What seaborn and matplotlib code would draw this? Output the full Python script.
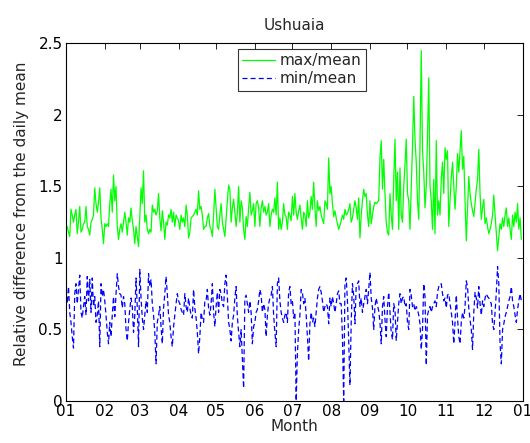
import matplotlib
matplotlib.use("Agg")
import matplotlib.pyplot as plt
import matplotlib.dates as mdates
import numpy as np
import pandas as pd
import seaborn as sns

# Daily ratios, one list per month
max_jan = [1.21, 1.22, 1.18, 1.15, 1.34, 1.30, 1.25, 1.30, 1.34, 1.17, 1.25, 1.36, 1.18, 1.20, 1.24, 1.25,
           1.36, 1.22, 1.20, 1.16, 1.25, 1.27, 1.30, 1.49, 1.38, 1.32, 1.39, 1.49, 1.28, 1.20, 1.10]
max_feb = [1.24, 1.22, 1.24, 1.22, 1.38, 1.48, 1.32, 1.58, 1.40, 1.50, 1.22, 1.13, 1.20, 1.24, 1.18, 1.25,
           1.32, 1.25, 1.16, 1.28, 1.25, 1.35, 1.26, 1.20, 1.10, 1.22, 1.15, 1.08]
max_mar = [1.28, 1.49, 1.38, 1.61, 1.25, 1.30, 1.20, 1.17, 1.20, 1.18, 1.37, 1.32, 1.34, 1.30, 1.33, 1.45,
           1.28, 1.19, 1.33, 1.25, 1.13, 1.25, 1.23, 1.30, 1.28, 1.34, 1.25, 1.32, 1.22, 1.30, 1.28]
max_apr = [1.26, 1.20, 1.30, 1.25, 1.28, 1.22, 1.37, 1.30, 1.14, 1.18, 1.28, 1.29, 1.30, 1.32, 1.34, 1.30,
           1.47, 1.34, 1.36, 1.30, 1.20, 1.22, 1.22, 1.28, 1.31, 1.22, 1.20, 1.15, 1.30, 1.48]
max_may = [1.35, 1.22, 1.20, 1.30, 1.38, 1.25, 1.20, 1.15, 1.28, 1.40, 1.51, 1.48, 1.25, 1.35, 1.41, 1.32,
           1.22, 1.32, 1.50, 1.25, 1.40, 1.35, 1.20, 1.13, 1.29, 1.22, 1.35, 1.46, 1.30, 1.33, 1.38]
max_jun = [1.22, 1.38, 1.40, 1.35, 1.22, 1.35, 1.40, 1.32, 1.36, 1.30, 1.32, 1.38, 1.22, 1.30, 1.34, 1.32,
           1.42, 1.30, 1.53, 1.20, 1.28, 1.20, 1.25, 1.38, 1.30, 1.29, 1.20, 1.32, 1.30, 1.26]
max_jul = [1.43, 1.30, 1.45, 1.32, 1.27, 1.33, 1.37, 1.28, 1.20, 1.32, 1.30, 1.22, 1.40, 1.28, 1.32, 1.43,
           1.34, 1.53, 1.35, 1.22, 1.40, 1.33, 1.36, 1.30, 1.27, 1.24, 1.40, 1.38, 1.34, 1.70, 1.45]
max_aug = [1.50, 1.38, 1.29, 1.33, 1.28, 1.24, 1.20, 1.23, 1.26, 1.30, 1.27, 1.34, 1.30, 1.31, 1.34, 1.38,
           1.25, 1.28, 1.34, 1.40, 1.35, 1.27, 1.42, 1.14, 1.30, 1.40, 1.48, 1.43, 1.45, 1.30, 1.22]
max_sep = [1.40, 1.24, 1.30, 1.36, 1.39, 1.38, 1.39, 1.40, 1.70, 1.82, 1.48, 1.69, 1.45, 1.25, 1.18, 1.16,
           1.45, 1.30, 1.20, 1.55, 1.83, 1.40, 1.60, 1.20, 1.63, 1.30, 1.25, 1.50, 1.65, 1.83]
max_oct = [1.45, 1.40, 1.20, 1.50, 1.78, 2.13, 1.83, 1.67, 1.40, 1.27, 1.80, 2.45, 1.75, 1.60, 1.35, 1.50,
           1.85, 2.26, 1.50, 1.40, 1.20, 1.55, 1.17, 1.82, 1.30, 1.40, 1.30, 1.55, 1.67, 1.45, 1.77]
max_nov = [1.69, 1.75, 1.22, 1.40, 1.56, 1.67, 1.50, 1.34, 1.50, 1.73, 1.60, 1.75, 1.89, 1.62, 1.71, 1.40,
           1.12, 1.35, 1.57, 1.45, 1.38, 1.33, 1.29, 1.38, 1.48, 1.55, 1.76, 1.45, 1.27, 1.35]
max_dec = [1.41, 1.24, 1.28, 1.22, 1.17, 1.20, 1.24, 1.30, 1.44, 1.30, 1.18, 1.05, 1.15, 1.24, 1.20, 1.28,
           1.22, 1.30, 1.35, 1.22, 1.28, 1.20, 1.13, 1.30, 1.22, 1.32, 1.25, 1.38, 1.20, 1.28, 1.13]

min_jan = [0.72, 0.68, 0.80, 0.62, 0.55, 0.45, 0.37, 0.75, 0.82, 0.68, 0.78, 0.88, 0.62, 0.58, 0.66, 0.73,
           0.60, 0.87, 0.70, 0.85, 0.62, 0.86, 0.66, 0.73, 0.55, 0.60, 0.70, 0.38, 0.82, 0.73, 0.78]
min_feb = [0.70, 0.60, 0.48, 0.40, 0.55, 0.45, 0.60, 0.73, 0.59, 0.75, 0.89, 0.80, 0.75, 0.74, 0.65, 0.73,
           0.68, 0.50, 0.42, 0.55, 0.64, 0.72, 0.66, 0.48, 0.60, 0.86, 0.65, 0.38]
min_mar = [0.92, 0.72, 0.58, 0.50, 0.60, 0.70, 0.62, 0.89, 0.80, 0.85, 0.68, 0.60, 0.48, 0.26, 0.55, 0.60,
           0.66, 0.52, 0.40, 0.65, 0.75, 0.87, 0.75, 0.60, 0.55, 0.45, 0.38, 0.52, 0.60, 0.68, 0.75]
min_apr = [0.70, 0.68, 0.64, 0.62, 0.60, 0.75, 0.66, 0.62, 0.72, 0.65, 0.60, 0.58, 0.78, 0.65, 0.58, 0.48,
           0.33, 0.45, 0.62, 0.57, 0.55, 0.70, 0.70, 0.78, 0.65, 0.60, 0.68, 0.82, 0.62, 0.52]
min_may = [0.66, 0.76, 0.62, 0.78, 0.75, 0.68, 0.66, 0.82, 0.88, 0.73, 0.55, 0.50, 0.42, 0.55, 0.60, 0.72,
           0.80, 0.59, 0.48, 0.38, 0.50, 0.30, 0.09, 0.72, 0.74, 0.68, 0.62, 0.70, 0.62, 0.40, 0.52]
min_jun = [0.55, 0.62, 0.64, 0.70, 0.78, 0.74, 0.62, 0.68, 0.64, 0.45, 0.60, 0.68, 0.72, 0.74, 0.80, 0.60,
           0.48, 0.38, 0.82, 0.86, 0.70, 0.62, 0.58, 0.55, 0.60, 0.62, 0.55, 0.76, 0.80, 0.68]
min_jul = [0.70, 0.58, 0.62, 0.00, 0.33, 0.50, 0.60, 0.78, 0.76, 0.68, 0.72, 0.60, 0.45, 0.28, 0.54, 0.62,
           0.55, 0.58, 0.52, 0.62, 0.72, 0.78, 0.80, 0.76, 0.70, 0.62, 0.66, 0.68, 0.66, 0.54, 0.72]
min_aug = [0.66, 0.73, 0.68, 0.62, 0.68, 0.75, 0.77, 0.68, 0.68, 0.45, 0.00, 0.82, 0.86, 0.70, 0.42, 0.11,
           0.55, 0.82, 0.74, 0.54, 0.80, 0.82, 0.84, 0.66, 0.72, 0.62, 0.68, 0.73, 0.78, 0.68, 0.78]
min_sep = [0.90, 0.72, 0.65, 0.50, 0.66, 0.72, 0.67, 0.63, 0.55, 0.40, 0.66, 0.73, 0.57, 0.45, 0.66, 0.76,
           0.62, 0.48, 0.43, 0.68, 0.64, 0.42, 0.55, 0.68, 0.75, 0.68, 0.72, 0.73, 0.66, 0.68]
min_oct = [0.55, 0.50, 0.78, 0.74, 0.66, 0.68, 0.63, 0.66, 0.64, 0.60, 0.54, 0.36, 0.50, 0.82, 0.73, 0.25,
           0.60, 0.64, 0.66, 0.62, 0.66, 0.68, 0.70, 0.66, 0.76, 0.80, 0.82, 0.82, 0.75, 0.70, 0.72]
min_nov = [0.65, 0.74, 0.75, 0.68, 0.62, 0.55, 0.40, 0.55, 0.74, 0.58, 0.45, 0.40, 0.55, 0.62, 0.58, 0.66,
           0.84, 0.80, 0.65, 0.57, 0.50, 0.36, 0.62, 0.76, 0.72, 0.65, 0.80, 0.68, 0.60, 0.70]
min_dec = [0.66, 0.72, 0.75, 0.73, 0.72, 0.70, 0.68, 0.54, 0.50, 0.62, 0.76, 0.94, 0.82, 0.40, 0.26, 0.50,
           0.54, 0.59, 0.62, 0.66, 0.70, 0.73, 0.80, 0.70, 0.66, 0.60, 0.55, 0.64, 0.70, 0.75, 0.70]

max_mean = (max_jan + max_feb + max_mar + max_apr + max_may + max_jun
            + max_jul + max_aug + max_sep + max_oct + max_nov + max_dec)
min_mean = (min_jan + min_feb + min_mar + min_apr + min_may + min_jun
            + min_jul + min_aug + min_sep + min_oct + min_nov + min_dec)

dates = pd.date_range("2009-01-01", periods=len(max_mean), freq="D")
month_ticks = pd.date_range("2009-01-01", "2010-01-01", freq="MS")

df = pd.concat([
    pd.DataFrame({"date": dates, "value": max_mean, "series": "max/mean"}),
    pd.DataFrame({"date": dates, "value": min_mean, "series": "min/mean"}),
])

sns.set_style("white")
# wide sans to mimic the stretched MATLAB Helvetica
plt.rcParams['font.family'] = ['DejaVu Sans']
fs = 11

fig = plt.figure(figsize=(5.3, 4.43), dpi=100)
ax = fig.add_axes([0.1245, 0.0948, 0.986 - 0.1245, 0.902 - 0.0948])

sns.lineplot(data=df, x="date", y="value", hue="series", style="series",
             palette={"max/mean": "#00ff00", "min/mean": "#0000ff"},
             dashes={"max/mean": "", "min/mean": (4, 2.5)},
             linewidth=0.9, ax=ax)

ax.set_xlim(month_ticks[0], month_ticks[-1])
ax.set_ylim(0, 2.5)
ax.set_xticks(month_ticks)
ax.xaxis.set_major_formatter(mdates.DateFormatter("%m"))
ax.set_yticks([0, 0.5, 1, 1.5, 2, 2.5])
ax.set_yticklabels(["0", "0.5", "1", "1.5", "2", "2.5"])
ax.tick_params(direction="in", length=4, width=0.6, top=True, right=True,
               labelsize=fs, colors="black", pad=2.5)
for s in ax.spines.values():
    s.set_visible(True)
    s.set_color("black")
    s.set_linewidth(0.8)

ax.set_title("Ushuaia", fontsize=fs, pad=10)
ax.set_xlabel("Month", fontsize=fs, labelpad=0)
ax.set_ylabel("Relative difference from the daily mean", fontsize=fs)
ax.yaxis.set_label_coords(-0.081, 0.524)

leg = ax.legend(loc="upper center", bbox_to_anchor=(0.517, 1.0), fontsize=fs,
                frameon=True, fancybox=False, handlelength=2.1, handletextpad=0.35,
                borderpad=0.3, labelspacing=0.2, borderaxespad=0.35)
leg.get_frame().set_edgecolor("black")
leg.get_frame().set_linewidth(0.8)

fig.savefig("out.png", dpi=100, facecolor="white")
